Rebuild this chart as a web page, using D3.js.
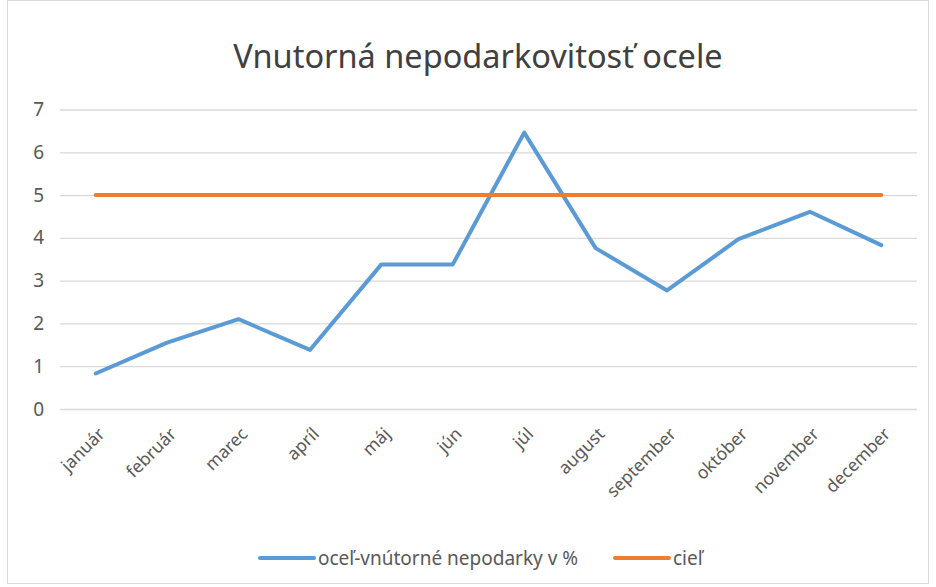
<!DOCTYPE html>
<html>
<head>
<meta charset="utf-8">
<script src="https://cdn.jsdelivr.net/npm/d3@7"></script>
<style>
  body { margin: 0; background: #fff; }
  svg { font-family: "Noto Sans", "Open Sans", sans-serif; }
</style>
</head>
<body>
<div id="chart"></div>
<script>
const width = 936;
const height = 587;
const margin = ({top: 110, right: 19, bottom: 178, left: 60});

const title = "Vnutorná nepodarkovitosť ocele";
const months = ["január", "február", "marec", "apríl", "máj", "jún", "júl", "august", "september", "október", "november", "december"];
const defects = [0.83, 1.55, 2.1, 1.38, 3.38, 3.38, 6.46, 3.76, 2.77, 3.97, 4.61, 3.83];
const target = [5, 5, 5, 5, 5, 5, 5, 5, 5, 5, 5, 5];
const yTicks = [0, 1, 2, 3, 4, 5, 6, 7];
const seriesNames = ["oceľ-vnútorné nepodarky v %", "cieľ"];
const colors = ["#5B9BD5", "#ED7D31"];

const svg = d3.select("#chart").append("svg")
  .attr("width", width)
  .attr("height", height);

// outer chart border
svg.append("rect")
  .attr("x", 7.5).attr("y", 0.5)
  .attr("width", width - 15).attr("height", height - 4)
  .attr("fill", "none")
  .attr("stroke", "#d9d9d9");

const x = d3.scaleBand()
  .domain(months)
  .range([margin.left, width - margin.right]);

const y = d3.scaleLinear()
  .domain([0, 7])
  .range([height - margin.bottom, margin.top - 0.5]);

svg.append("text")
  .attr("x", 478)
  .attr("y", 68)
  .attr("text-anchor", "middle")
  .attr("font-size", 32.5)
  .attr("fill", "#404040")
  .text(title);

// gridlines + y labels
const yAxis = g => g
  .attr("transform", `translate(${margin.left},0)`)
  .call(d3.axisLeft(y).tickValues(yTicks).tickFormat(d3.format("d"))
    .tickSize(-(width - margin.left - margin.right)).tickPadding(16))
  .call(g => g.select(".domain").remove())
  .call(g => g.selectAll(".tick line").attr("stroke", "#d9d9d9").attr("stroke-width", 1.3))
  .call(g => g.selectAll(".tick text")
    .attr("font-size", 19)
    .attr("font-family", "Noto Sans, sans-serif")
    .attr("fill", "#595959"));

svg.append("g").call(yAxis);

const xAxis = g => g
  .attr("transform", `translate(0,${height - margin.bottom})`)
  .call(d3.axisBottom(x).tickSize(0))
  .call(g => g.select(".domain").remove())
  .call(g => g.selectAll(".tick text")
    .attr("font-size", 17.5)
    .attr("font-family", "Noto Sans, sans-serif")
    .attr("fill", "#595959")
    .attr("text-anchor", "end")
    .attr("dy", 0)
    .attr("transform", "translate(8,24) rotate(-45)"));

svg.append("g").call(xAxis);

const line = d3.line()
  .x((d, i) => x(months[i]) + x.bandwidth() / 2)
  .y(d => y(d));

[defects, target].forEach((s, k) => {
  svg.append("path")
    .datum(s)
    .attr("fill", "none")
    .attr("stroke", colors[k])
    .attr("stroke-width", 4)
    .attr("stroke-linecap", "round")
    .attr("stroke-linejoin", "round")
    .attr("d", line);
});

// legend
const legendX = [260, 615];
const legend = svg.append("g");
seriesNames.forEach((name, k) => {
  legend.append("line")
    .attr("x1", legendX[k]).attr("x2", legendX[k] + 54)
    .attr("y1", 558).attr("y2", 558)
    .attr("stroke", colors[k])
    .attr("stroke-width", 4)
    .attr("stroke-linecap", "round");
  legend.append("text")
    .attr("x", legendX[k] + 58)
    .attr("y", 565)
    .attr("font-size", 19)
    .attr("fill", "#595959")
    .text(name);
});
</script>
</body>
</html>
